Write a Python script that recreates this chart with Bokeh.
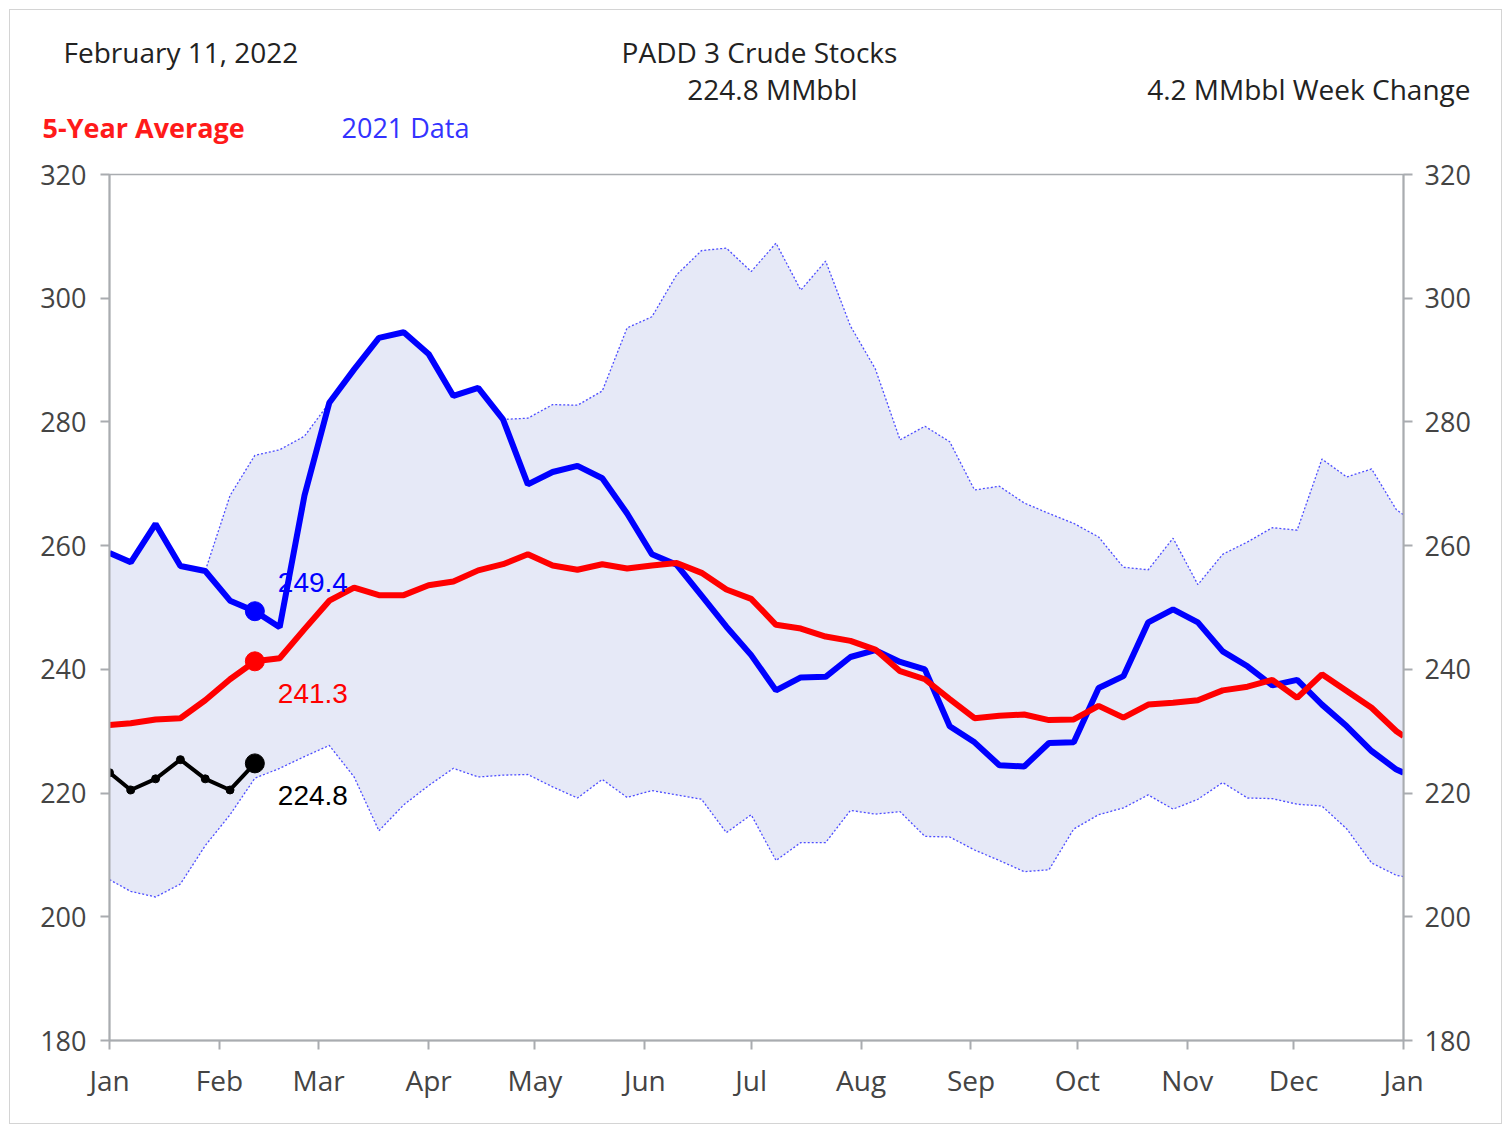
from bokeh.plotting import figure
from bokeh.models import Range1d, LinearAxis, FixedTicker, Label
from bokeh.embed import file_html
from bokeh.resources import INLINE
from bokeh.core.properties import value

# ---------------- data ----------------
days = [0, 6, 13, 20, 27, 34, 41, 48, 55, 62, 69, 76, 83, 90, 97, 104, 111, 118,
        125, 132, 139, 146, 153, 160, 167, 174, 181, 188, 195, 202, 209, 216, 223,
        230, 237, 244, 251, 258, 265, 272, 279, 286, 293, 300, 307, 314, 321, 328,
        335, 342, 349, 356, 363, 365]

data_2021 = [258.8, 257.3, 263.5, 256.7, 255.9, 251.1, 249.4, 246.8, 268.1, 283.1,
             288.5, 293.6, 294.5, 291.0, 284.2, 285.5, 280.4, 269.9, 271.9, 272.9,
             270.9, 265.2, 258.6, 256.9, 251.9, 246.9, 242.3, 236.6, 238.7, 238.8,
             242.0, 243.1, 241.2, 240.0, 230.8, 228.2, 224.5, 224.3, 228.1, 228.2,
             237.0, 238.9, 247.6, 249.7, 247.6, 242.9, 240.5, 237.4, 238.3, 234.3,
             230.8, 226.8, 223.8, 223.3]

avg_5yr = [231.0, 231.3, 231.9, 232.1, 235.0, 238.4, 241.3, 241.8, 246.5, 251.1,
           253.2, 252.0, 252.0, 253.6, 254.2, 256.0, 257.0, 258.6, 256.8, 256.1,
           257.0, 256.3, 256.8, 257.2, 255.6, 252.9, 251.4, 247.2, 246.6, 245.3,
           244.6, 243.2, 239.7, 238.4, 235.2, 232.1, 232.5, 232.7, 231.8, 231.9,
           234.1, 232.2, 234.3, 234.6, 235.0, 236.6, 237.2, 238.3, 235.4, 239.2,
           236.5, 233.8, 230.0, 229.2]

range_high = [258.8, 257.3, 263.5, 256.7, 255.9, 268.1, 274.6, 275.5, 277.7, 283.1,
              288.5, 293.6, 294.5, 291.0, 284.2, 285.5, 280.4, 280.6, 282.8, 282.7,
              285.0, 295.2, 297.0, 303.8, 307.7, 308.1, 304.3, 308.9, 301.3, 306.0,
              295.5, 288.6, 277.1, 279.3, 276.8, 269.0, 269.6, 266.9, 265.2, 263.6,
              261.4, 256.5, 256.1, 261.2, 253.7, 258.6, 260.6, 262.9, 262.5, 274.0,
              271.1, 272.4, 265.8, 265.0]

range_low = [206.0, 204.1, 203.2, 205.3, 211.5, 216.5, 222.4, 224.0, 225.9, 227.7,
             222.6, 213.9, 218.1, 221.2, 224.0, 222.6, 222.9, 223.0, 221.0, 219.2,
             222.2, 219.3, 220.4, 219.7, 219.0, 213.6, 216.5, 209.1, 212.0, 212.0,
             217.2, 216.6, 217.0, 213.0, 212.9, 210.8, 209.1, 207.3, 207.6, 214.2,
             216.5, 217.6, 219.7, 217.4, 219.0, 221.7, 219.2, 219.1, 218.2, 217.9,
             214.2, 208.7, 206.7, 206.5]

days_2022 = [0, 6, 13, 20, 27, 34, 41]
data_2022 = [223.3, 220.5, 222.3, 225.4, 222.3, 220.5, 224.8]

month_days = [0, 31, 59, 90, 120, 151, 181, 212, 243, 273, 304, 334, 365]
month_labels = ["Jan", "Feb", "Mar", "Apr", "May", "Jun", "Jul", "Aug", "Sep",
                "Oct", "Nov", "Dec", "Jan"]
y_ticks = [180, 200, 220, 240, 260, 280, 300, 320]

header_date = "February 11, 2022"
header_title = "PADD 3 Crude Stocks"
header_level = "224.8 MMbbl"
header_change = "4.2 MMbbl Week Change"
legend_avg = "5-Year Average"
legend_2021 = "2021 Data"

current_day = days_2022[-1]
idx = days.index(current_day)

FONT = "Open Sans"
AXIS_GREY = "#a9acb0"
BORDER = "1px solid #d4d4d4"
W = 1493
HH = 140

# ---------------- header strip (own root, full-width frame) ----------------
hdr = figure(width=W, height=HH, output_backend="svg", toolbar_location=None,
             x_range=Range1d(0, W), y_range=Range1d(HH, 0),
             x_axis_location=None, y_axis_location=None,
             min_border=0, min_border_left=0, min_border_right=0,
             min_border_top=0, min_border_bottom=0, margin=(9, 0, 0, 9))
hdr.grid.visible = False
hdr.outline_line_color = None
hdr.styles = {"border-top": BORDER, "border-left": BORDER, "border-right": BORDER}


def htext(x, y, text, align="left", color="#222222", style="normal", size="28px"):
    hdr.text(x=[x], y=[y], text=[text], text_align=align, text_baseline="middle",
             text_color=color, text_font=value(FONT), text_font_size=size,
             text_font_style=style)


htext(53, 41, header_date)
htext(749, 41, header_title, align="center")
htext(762, 78, header_level, align="center")
htext(1460, 78, header_change, align="right")
htext(32, 117, legend_avg, color="#ff1a1a", style="bold", size="27px")
htext(331, 117, legend_2021, color="#3333ff", size="27px")

# ---------------- main chart ----------------
p = figure(width=W, height=975, output_backend="svg", toolbar_location=None,
           x_range=Range1d(0, 365), y_range=Range1d(180, 320),
           min_border_left=99, min_border_right=100,
           min_border_top=25, min_border_bottom=84, margin=(0, 0, 0, 9))
p.styles = {"border-bottom": BORDER, "border-left": BORDER, "border-right": BORDER}
p.grid.visible = False
p.outline_line_color = AXIS_GREY
p.outline_line_width = 1.5

right_axis = LinearAxis()
p.add_layout(right_axis, "right")

for ax in p.yaxis:
    ax.ticker = FixedTicker(ticks=y_ticks)
for ax in p.xaxis:
    ax.ticker = FixedTicker(ticks=month_days)
    ax.major_label_overrides = {d: m for d, m in zip(month_days, month_labels)}

for ax in p.axis:
    ax.axis_line_color = AXIS_GREY
    ax.axis_line_width = 2
    ax.major_tick_line_color = AXIS_GREY
    ax.major_tick_line_width = 2
    ax.major_tick_out = 9
    ax.major_tick_in = 0
    ax.minor_tick_line_color = None
    ax.major_label_text_font = FONT
    ax.major_label_text_font_size = "27px"
    ax.major_label_text_color = "#444444"

p.yaxis[0].major_label_standoff = 14
right_axis.major_label_standoff = 12
for ax in p.xaxis:
    ax.major_label_text_font_size = "28px"
    ax.major_label_standoff = 11

# band of the 5-year range
p.varea(x=days, y1=range_low, y2=range_high, fill_color="#e6e9f7")
p.line(days, range_high, line_color="#4d4dff", line_width=1.3, line_dash="2 2")
p.line(days, range_low, line_color="#4d4dff", line_width=1.3, line_dash="2 2")

# lines
p.line(days, data_2021, line_color="#0000ff", line_width=6)
p.line(days, avg_5yr, line_color="#ff0000", line_width=6)
p.line(days_2022, data_2022, line_color="#000000", line_width=4)
p.scatter(days_2022, data_2022, size=8, color="#000000")

p.scatter([current_day], [data_2021[idx]], size=19, color="#0000ff")
p.scatter([current_day], [avg_5yr[idx]], size=19, color="#ff0000")
p.scatter([current_day], [data_2022[-1]], size=19, color="#000000")

LBL = "Liberation Sans"
p.add_layout(Label(x=current_day, y=data_2021[idx], text=f"{data_2021[idx]:.1f}",
                   x_offset=23, y_offset=29, text_baseline="middle",
                   text_color="#0000ff", text_font=LBL, text_font_size="28px"))
p.add_layout(Label(x=current_day, y=avg_5yr[idx], text=f"{avg_5yr[idx]:.1f}",
                   x_offset=23, y_offset=-32, text_baseline="middle",
                   text_color="#ff0000", text_font=LBL, text_font_size="28px"))
p.add_layout(Label(x=current_day, y=data_2022[-1], text=f"{data_2022[-1]:.1f}",
                   x_offset=23, y_offset=-32, text_baseline="middle",
                   text_color="#000000", text_font=LBL, text_font_size="28px"))

open("out.html", "w").write(file_html([hdr, p], INLINE))
